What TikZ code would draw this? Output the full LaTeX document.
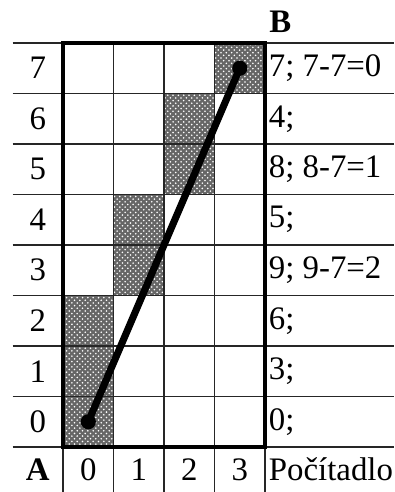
\documentclass[tikz,border=0pt]{standalone}
\usepackage{fontspec}
\setmainfont{Liberation Serif}
\usetikzlibrary{patterns}
\tikzset{
  thin grid/.style={line width=0.8pt, black!85},
  thick border/.style={line width=2.3pt, black},
  shade/.style={fill=black!60, postaction={pattern=crosshatch dots, pattern color=white}},
  lab/.style={font=\fontsize{18.5}{20}\selectfont, inner sep=0pt},
  rlab/.style={lab, anchor=west},
  dotend/.style={circle, fill=black, minimum size=0.3cm, inner sep=0pt},
}
\begin{document}
\begin{tikzpicture}
\useasboundingbox (-1.248,-0.891) rectangle (6.554,8.851);
% shaded cells
\foreach \c/\r in {3/7, 2/6, 2/5, 1/4, 1/3, 0/2, 0/1, 0/0}
  \path[shade] (\c,\r) rectangle ++(1,1);
% thin grid
\foreach \y in {0,...,8}
  \draw[thin grid] (-1,\y) -- (6.554,\y);
\foreach \x in {1,2,3}
  \draw[thin grid] (\x,8) -- (\x,-0.891);
\foreach \x in {0,4}
  \draw[thin grid] (\x,0) -- (\x,-0.891);
% thick border
\draw[thick border] (0,0) rectangle (4,8);
% line
\node[dotend] (s) at (0.5,0.5) {};
\node[dotend] (e) at (3.5,7.5) {};
\draw[line width=4pt] (s.center) -- (e.center);
% row labels
\foreach \r in {0,...,7}
  \node[lab] (r\r) at (-0.5,\r+0.5) {\r};
% column labels
\foreach \c in {0,...,3}
  \node[lab] (c\c) at (\c+0.5,-0.45) {\c};
\node[lab, font=\fontsize{18.5}{20}\selectfont\bfseries] (A) at (-0.5,-0.45) {A};
\node[lab, font=\fontsize{18.5}{20}\selectfont\bfseries, anchor=west] (B) at (4.08,8.42) {B};
% right labels
\node[rlab] (k7) at (4.07,7.5) {7; 7-7=0};
\node[rlab] (k6) at (4.07,6.5) {4;};
\node[rlab] (k5) at (4.07,5.5) {8; 8-7=1};
\node[rlab] (k4) at (4.07,4.5) {5;};
\node[rlab] (k3) at (4.07,3.5) {9; 9-7=2};
\node[rlab] (k2) at (4.07,2.5) {6;};
\node[rlab] (k1) at (4.07,1.5) {3;};
\node[rlab] (k0) at (4.07,0.5) {0;};
\node[rlab] (P) at (4.07,-0.45) {Počítadlo};
\end{tikzpicture}
\end{document}
